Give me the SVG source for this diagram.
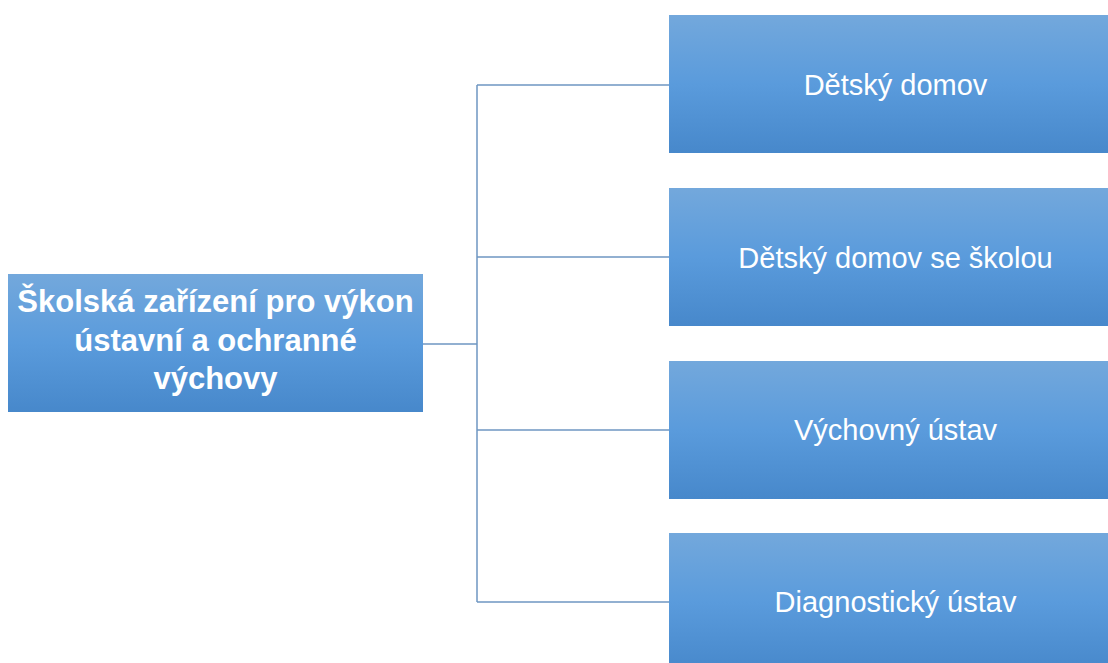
<svg xmlns="http://www.w3.org/2000/svg" width="1108" height="663" viewBox="0 0 1108 663">
<defs>
<linearGradient id="g" x1="0" y1="0" x2="0" y2="1">
<stop offset="0" stop-color="#73a8dc"/>
<stop offset="0.5" stop-color="#5a9bdc"/>
<stop offset="1" stop-color="#4788cb"/>
</linearGradient>
<style>
.box{fill:url(#g);}
.t{font-family:"Liberation Sans",Arial,sans-serif;fill:#ffffff;text-anchor:middle;}
.r{font-size:29px;}
.b{font-size:31px;font-weight:bold;}
.c{fill:none;stroke:#6f97c2;stroke-width:1.5;}
</style>
</defs>
<rect width="1108" height="663" fill="#ffffff"/>
<g id="connectors">
<path class="c" d="M423,344 H477 M477,85 V602 M477,85 H669 M477,257 H669 M477,430 H669 M477,602 H669"/>
</g>
<g id="root">
<rect class="box" x="8" y="274" width="415" height="138"/>
<text class="t b" x="215.5" y="312">Školská zařízení pro výkon</text>
<text class="t b" x="215.5" y="351">ústavní a ochranné</text>
<text class="t b" x="215.5" y="389">výchovy</text>
</g>
<g id="n1">
<rect class="box" x="669" y="15" width="453" height="138"/>
<text class="t r" x="895.5" y="95">Dětský domov</text>
</g>
<g id="n2">
<rect class="box" x="669" y="188" width="453" height="138"/>
<text class="t r" x="895.5" y="268">Dětský domov se školou</text>
</g>
<g id="n3">
<rect class="box" x="669" y="361" width="453" height="138"/>
<text class="t r" x="895.5" y="440">Výchovný ústav</text>
</g>
<g id="n4">
<rect class="box" x="669" y="533" width="453" height="138"/>
<text class="t r" x="895.5" y="612">Diagnostický ústav</text>
</g>
</svg>
